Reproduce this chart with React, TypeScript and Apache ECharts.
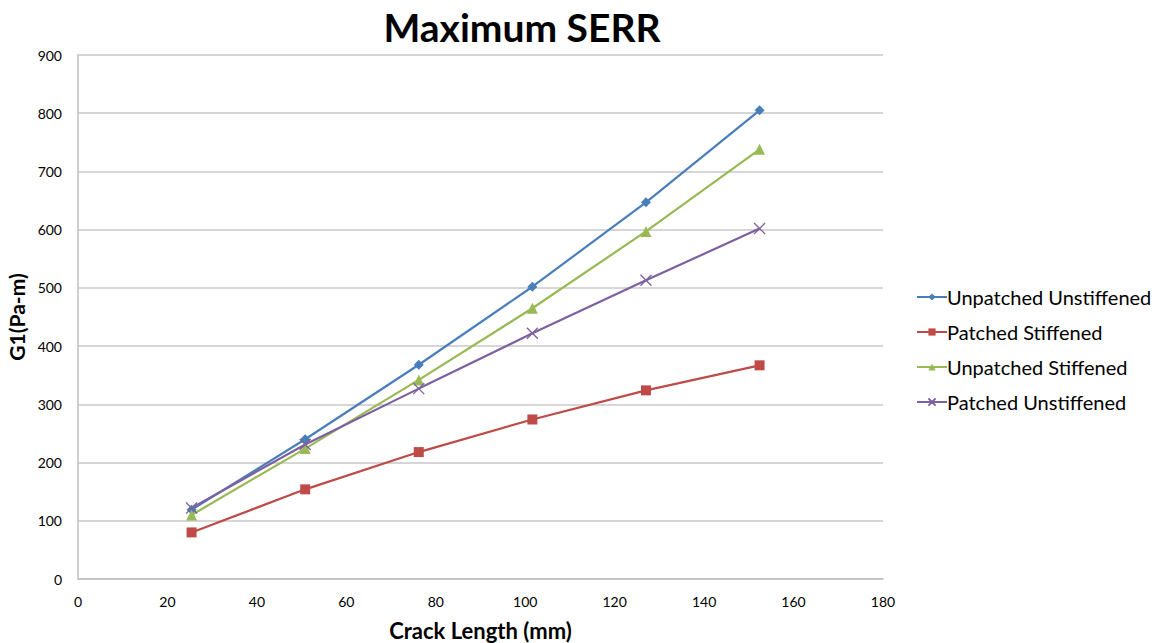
import React, { useEffect, useRef } from "react";
import * as echarts from "echarts";

const crackLength = [25.4, 50.8, 76.2, 101.6, 127, 152.4];
const unpatchedUnstiffened = [119, 240, 368, 502, 647, 805];
const patchedStiffened = [80, 154, 218, 274, 324, 367];
const unpatchedStiffened = [110, 224, 342, 465, 597, 738];
const patchedUnstiffened = [122, 231, 327, 422, 513, 602];

const seriesNames = ["Unpatched Unstiffened", "Patched Stiffened", "Unpatched Stiffened", "Patched Unstiffened"];
const seriesValues = [unpatchedUnstiffened, patchedStiffened, unpatchedStiffened, patchedUnstiffened];
const colors = ["#4A7EBB", "#BE4B48", "#98B954", "#7D60A0"];
const symbols = ["diamond", "rect", "triangle", "path://M0,0 L10,10 M10,0 L0,10 M0,0 L10,10 Z"];
const symbolSizes = [10, 10, 11, 11];

const FONT = "Lato, 'Open Sans', sans-serif";

export default function App() {
  const ref = useRef<HTMLDivElement>(null);
  useEffect(() => {
    if (!ref.current) return;
    const chart = echarts.init(ref.current, undefined, { renderer: "svg" });
    chart.setOption({
      animation: false,
      backgroundColor: "#ffffff",
      textStyle: { fontFamily: FONT },
      title: {
        text: "Maximum SERR",
        left: 517,
        textAlign: "center",
        top: 2,
        textStyle: { fontFamily: FONT, fontWeight: "bold", fontSize: 39, color: "#000" },
      },
      legend: {
        orient: "vertical",
        left: 911,
        top: 282,
        itemGap: 15,
        itemWidth: 30,
        itemHeight: 9,
        textStyle: { fontFamily: FONT, fontSize: 20, lineHeight: 20, color: "#000", padding: [0, 0, 0, -5] },
        data: seriesNames,
      },
      grid: { left: 78, right: 278, top: 55, bottom: 64, containLabel: false, outerBoundsMode: "none" },
      xAxis: {
        type: "value",
        min: 0,
        max: 180,
        interval: 20,
        name: "Crack Length (mm)",
        nameLocation: "middle",
        nameGap: 40,
        nameTextStyle: { fontFamily: FONT, fontWeight: "bold", fontSize: 22, color: "#000" },
        axisLine: { lineStyle: { color: "#BFBFBF", width: 1.5 } },
        axisTick: { show: false },
        axisLabel: { fontFamily: FONT, fontSize: 14, color: "#000", margin: 15 },
        splitLine: { show: false },
      },
      yAxis: {
        type: "value",
        min: 0,
        max: 900,
        interval: 100,
        name: "G1(Pa-m)",
        nameLocation: "middle",
        nameGap: 50,
        nameTextStyle: { fontFamily: FONT, fontWeight: "bold", fontSize: 21, color: "#000" },
        axisLine: { show: true, lineStyle: { color: "#BFBFBF", width: 1.5 } },
        axisTick: { show: false },
        axisLabel: { fontFamily: FONT, fontSize: 14, color: "#000", margin: 16 },
        splitLine: { lineStyle: { color: "#C8C8C8", width: 1.5 } },
      },
      series: seriesNames.map((name, i) => ({
        name,
        type: "line",
        data: crackLength.map((x, j) => [x, seriesValues[i][j]]),
        symbol: symbols[i],
        symbolSize: symbolSizes[i],
        showAllSymbol: true,
        lineStyle: { color: colors[i], width: 2.2 },
        itemStyle: i === 3 ? { color: colors[i], borderColor: colors[i], borderWidth: 1.3 } : { color: colors[i], borderWidth: 0 },
        emphasis: { disabled: true },
      })),
    });
    return () => chart.dispose();
  }, []);
  return <div ref={ref} style={{ position: "fixed", left: 0, top: 0, width: 1161, height: 643 }} />;
}
